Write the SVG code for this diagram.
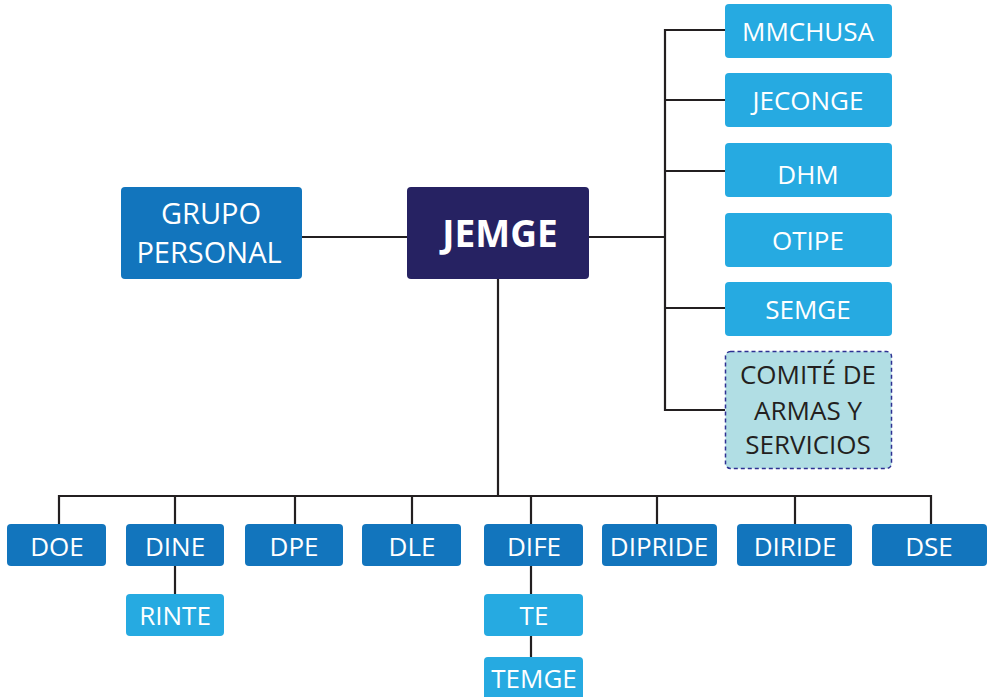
<svg xmlns="http://www.w3.org/2000/svg" width="993" height="697" viewBox="0 0 993 697">
<style>
.dk{fill:#1275bd}
.lt{fill:#26aae1}
.nv{fill:#262262}
.cm{fill:#b1dee4;stroke:#2e3192;stroke-width:1.5;stroke-dasharray:4 3}
text{font-family:"Open Sans","Noto Sans",sans-serif;font-size:26px;fill:#ffffff;text-anchor:middle}
.big{font-size:29px}
.bold{font-size:37px;font-weight:bold}
.dark{fill:#231f20}
.ln{stroke:#231f20;stroke-width:2.2;fill:none}
</style>
<rect width="993" height="697" fill="#ffffff"/>
<g id="connectors" class="ln">
<line x1="302" y1="237" x2="407" y2="237"/>
<line x1="589" y1="237" x2="665" y2="237"/>
<polyline points="725,30 665,30 665,410 725,410"/>
<line x1="665" y1="100" x2="725" y2="100"/>
<line x1="665" y1="171" x2="725" y2="171"/>
<line x1="665" y1="308" x2="725" y2="308"/>
<line x1="498" y1="279" x2="498" y2="496"/>
<polyline points="59,524 59,496 931,496 931,524"/>
<line x1="175" y1="496" x2="175" y2="524"/>
<line x1="295" y1="496" x2="295" y2="524"/>
<line x1="412" y1="496" x2="412" y2="524"/>
<line x1="531" y1="496" x2="531" y2="524"/>
<line x1="657" y1="496" x2="657" y2="524"/>
<line x1="795" y1="496" x2="795" y2="524"/>
<line x1="175" y1="566" x2="175" y2="594"/>
<line x1="531" y1="566" x2="531" y2="594"/>
<line x1="531" y1="636" x2="531" y2="657"/>
</g>
<g id="grupo-personal"><rect class="dk" x="121" y="187" width="181" height="92" rx="4"/><text class="big" x="211" y="224">GRUPO</text><text class="big" x="209" y="263">PERSONAL</text></g>
<g id="jemge"><rect class="nv" x="407" y="187" width="182" height="92" rx="4"/><text class="bold" x="500" y="247">JEMGE</text></g>
<g id="mmchusa"><rect class="lt" x="725" y="4" width="167" height="54" rx="4"/><text x="808" y="40.5">MMCHUSA</text></g>
<g id="jeconge"><rect class="lt" x="725" y="73" width="167" height="54" rx="4"/><text x="808" y="110">JECONGE</text></g>
<g id="dhm"><rect class="lt" x="725" y="143" width="167" height="54" rx="4"/><text x="808" y="184">DHM</text></g>
<g id="otipe"><rect class="lt" x="725" y="213" width="167" height="54" rx="4"/><text x="808" y="249.5">OTIPE</text></g>
<g id="semge"><rect class="lt" x="725" y="282" width="167" height="54" rx="4"/><text x="808" y="318.5">SEMGE</text></g>
<g id="comite"><rect class="cm" x="725.5" y="351.5" width="166" height="117" rx="5"/><text class="dark" x="808" y="384">COMITÉ DE</text><text class="dark" x="808" y="419.5">ARMAS Y</text><text class="dark" x="808" y="454">SERVICIOS</text></g>
<g id="doe"><rect class="dk" x="7" y="524" width="99" height="42" rx="4"/><text x="57" y="555.5">DOE</text></g>
<g id="dine"><rect class="dk" x="126" y="524" width="98" height="42" rx="4"/><text x="175" y="555.5">DINE</text></g>
<g id="dpe"><rect class="dk" x="245" y="524" width="98" height="42" rx="4"/><text x="294" y="555.5">DPE</text></g>
<g id="dle"><rect class="dk" x="362" y="524" width="99" height="42" rx="4"/><text x="412" y="555.5">DLE</text></g>
<g id="dife"><rect class="dk" x="484" y="524" width="99" height="42" rx="4"/><text x="534" y="555.5">DIFE</text></g>
<g id="dipride"><rect class="dk" x="602" y="524" width="115" height="42" rx="4"/><text x="659" y="555.5">DIPRIDE</text></g>
<g id="diride"><rect class="dk" x="737" y="524" width="115" height="42" rx="4"/><text x="795" y="555.5">DIRIDE</text></g>
<g id="dse"><rect class="dk" x="872" y="524" width="115" height="42" rx="4"/><text x="929" y="555.5">DSE</text></g>
<g id="rinte"><rect class="lt" x="126" y="594" width="98" height="42" rx="4"/><text x="175" y="624.5">RINTE</text></g>
<g id="te"><rect class="lt" x="484" y="594" width="99" height="42" rx="4"/><text x="534" y="624.5">TE</text></g>
<g id="temge"><rect class="lt" x="484" y="657" width="99" height="44" rx="4"/><text x="534" y="687.5">TEMGE</text></g>
</svg>
